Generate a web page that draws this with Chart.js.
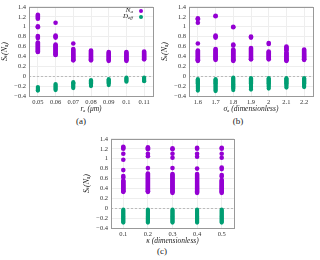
<!DOCTYPE html>
<html>
<head>
<meta charset="utf-8">
<script src="https://cdn.jsdelivr.net/npm/chart.js@4"></script>
<style>
  body { margin: 0; background: #fff; }
  #wrap { position: relative; width: 320px; height: 260px; font-family: "Liberation Serif", "DejaVu Serif", serif; color: #222; }
  canvas { position: absolute; }
  .cap { position: absolute; font-size: 9px; width: 40px; text-align: center; margin-left: -20px; }
  .leg { position: absolute; font-size: 7px; font-style: italic; text-align: right; width: 30px; line-height: 7px; }
  .leg sub { font-size: 5px; line-height: 0; vertical-align: -1px; }
  .dot { position: absolute; width: 4px; height: 4px; border-radius: 2px; }
</style>
</head>
<body>
<div id="wrap">
  <canvas id="chartA" width="160" height="114" style="left:0;top:0"></canvas>
  <canvas id="chartB" width="160" height="114" style="left:160px;top:0"></canvas>
  <canvas id="chartC" width="160" height="114" style="left:82px;top:132px"></canvas>
  <div class="cap" style="left:81px;top:116px">(a)</div>
  <div class="cap" style="left:238px;top:116px">(b)</div>
  <div class="cap" style="left:162px;top:246px">(c)</div>
  <div class="leg" style="left:103px;top:7px">N<sub>a</sub></div>
  <div class="leg" style="left:103px;top:13px">D<sub>eff</sub></div>
  <div class="dot" style="left:139px;top:9px;background:#9400d3"></div>
  <div class="dot" style="left:139px;top:15px;background:#009e73"></div>
</div>
<script>
// (a) radius r_a
var rLabels = ['0.05', '0.06', '0.07', '0.08', '0.09', '0.1', '0.11'];
var rNa = [
    [1.24, 1.22, 1.2, 1.18, 1.16, 1.01, 0.99, 0.81, 0.79, 0.77, 0.68, 0.66, 0.64, 0.62, 0.6, 0.58, 0.56, 0.54, 0.52, 0.5, 0.49],
    [1.08, 0.82, 0.8, 0.78, 0.64, 0.62, 0.6, 0.58, 0.56, 0.54, 0.52, 0.5, 0.48, 0.46, 0.44, 0.43],
    [0.66, 0.55, 0.53, 0.51, 0.49, 0.47, 0.45, 0.43, 0.41, 0.39, 0.37, 0.35, 0.33, 0.32],
    [0.52, 0.5, 0.48, 0.46, 0.44, 0.42, 0.4, 0.38, 0.36, 0.34, 0.32],
    [0.49, 0.47, 0.45, 0.43, 0.41, 0.39, 0.37, 0.35, 0.33, 0.31],
    [0.49, 0.47, 0.45, 0.43, 0.41, 0.39, 0.37, 0.35, 0.33, 0.31],
    [0.5, 0.48, 0.46, 0.44, 0.42, 0.4, 0.38, 0.36, 0.34]
];
var rDeff = [
    [-0.22, -0.24, -0.26, -0.28, -0.29],
    [-0.16, -0.18, -0.2, -0.22, -0.24, -0.26, -0.28],
    [-0.12, -0.14, -0.16, -0.18, -0.2, -0.22, -0.24],
    [-0.08, -0.1, -0.12, -0.14, -0.16, -0.18, -0.2],
    [-0.06, -0.08, -0.1, -0.12, -0.14, -0.18],
    [-0.03, -0.05, -0.07, -0.09, -0.11],
    [-0.03, -0.05, -0.07, -0.09, -0.1]
];

// (b) sigma_a
var sigmaLabels = ['1.6', '1.7', '1.8', '1.9', '2', '2.1', '2.2'];
var sigmaNa = [
    [1.17, 1.15, 1.08, 0.66, 0.52, 0.5, 0.48, 0.46, 0.44, 0.42, 0.4, 0.38, 0.36, 0.34, 0.32, 0.31],
    [1.22, 1.21, 0.82, 0.8, 0.78, 0.55, 0.53, 0.51, 0.49, 0.47, 0.45, 0.43, 0.41, 0.39, 0.37, 0.35, 0.33],
    [1.0, 0.99, 0.64, 0.62, 0.54, 0.52, 0.5, 0.48, 0.46, 0.44, 0.42, 0.4, 0.38, 0.36, 0.34, 0.32, 0.31],
    [0.8, 0.78, 0.57, 0.55, 0.53, 0.51, 0.49, 0.47, 0.45, 0.43, 0.41, 0.39, 0.37, 0.35, 0.34],
    [0.67, 0.65, 0.5, 0.48, 0.46, 0.44, 0.42, 0.4, 0.38, 0.36, 0.34],
    [0.6, 0.58, 0.56, 0.54, 0.52, 0.48, 0.46, 0.44, 0.42, 0.4, 0.38, 0.36, 0.34, 0.32, 0.31],
    [0.54, 0.52, 0.5, 0.48, 0.46, 0.44, 0.42, 0.4, 0.38, 0.36, 0.34, 0.33]
];
var sigmaDeff = [
    [-0.06, -0.08, -0.1, -0.12, -0.14, -0.16, -0.18, -0.2, -0.22, -0.24, -0.26, -0.29],
    [-0.06, -0.08, -0.1, -0.12, -0.14, -0.16, -0.18, -0.2, -0.22, -0.24, -0.26, -0.28, -0.3],
    [-0.03, -0.05, -0.07, -0.09, -0.11, -0.13, -0.15, -0.17, -0.19, -0.21, -0.23, -0.25, -0.28],
    [-0.04, -0.06, -0.08, -0.1, -0.12, -0.14, -0.16, -0.18, -0.2, -0.22, -0.24, -0.27],
    [-0.04, -0.06, -0.08, -0.1, -0.12, -0.14, -0.16, -0.18, -0.2, -0.22, -0.25],
    [-0.04, -0.06, -0.08, -0.1, -0.12, -0.14, -0.16, -0.18, -0.2, -0.23],
    [-0.04, -0.06, -0.08, -0.1, -0.12, -0.14, -0.16, -0.18, -0.2, -0.22]
];

// (c) kappa
var kappaLabels = ['0.1', '0.2', '0.3', '0.4', '0.5'];
var kappaNa = [
    [1.24, 1.22, 1.2, 1.1, 0.98, 0.77, 0.65, 0.62, 0.56, 0.54, 0.52, 0.5, 0.48, 0.46, 0.44, 0.42, 0.4, 0.38, 0.36, 0.34, 0.33],
    [1.23, 1.21, 1.19, 1.1, 1.05, 0.81, 0.7, 0.68, 0.66, 0.64, 0.62, 0.6, 0.58, 0.56, 0.54, 0.52, 0.5, 0.48, 0.46, 0.44, 0.42, 0.4, 0.38, 0.36, 0.34, 0.33],
    [1.21, 1.19, 1.1, 1.02, 0.81, 0.69, 0.67, 0.65, 0.63, 0.61, 0.59, 0.57, 0.55, 0.53, 0.51, 0.49, 0.47, 0.45, 0.43, 0.41, 0.39, 0.37, 0.35, 0.33, 0.31],
    [1.22, 1.2, 1.1, 1.04, 0.8, 0.69, 0.67, 0.65, 0.63, 0.61, 0.59, 0.57, 0.55, 0.53, 0.51, 0.49, 0.47, 0.45, 0.43, 0.41, 0.39, 0.37, 0.35, 0.33, 0.31],
    [1.22, 1.2, 1.1, 1.02, 0.82, 0.79, 0.67, 0.64, 0.57, 0.55, 0.53, 0.51, 0.49, 0.47, 0.45, 0.43, 0.41, 0.39, 0.37, 0.35, 0.33, 0.31]
];
var kappaDeff = [
    [-0.03, -0.05, -0.07, -0.09, -0.11, -0.13, -0.15, -0.17, -0.19, -0.21, -0.23, -0.25, -0.27, -0.29],
    [-0.03, -0.05, -0.07, -0.09, -0.11, -0.13, -0.15, -0.17, -0.19, -0.21, -0.23, -0.25, -0.27, -0.29],
    [-0.03, -0.05, -0.07, -0.09, -0.11, -0.13, -0.15, -0.17, -0.19, -0.21, -0.23, -0.25, -0.27, -0.29],
    [-0.03, -0.05, -0.07, -0.09, -0.11, -0.13, -0.15, -0.17, -0.19, -0.21, -0.23, -0.25, -0.27, -0.29],
    [-0.03, -0.05, -0.07, -0.09, -0.11, -0.13, -0.15, -0.17, -0.19, -0.21, -0.23, -0.25, -0.27, -0.29]
];

var yTicks = [-0.4, -0.2, 0, 0.2, 0.4, 0.6, 0.8, 1, 1.2, 1.4];

var purple = '#9400d3';
var green = '#009e73';
var serif = '"Liberation Serif", "DejaVu Serif", serif';

function toPoints(cols) {
    var pts = [];
    cols.forEach(function(col, i) {
        col.forEach(function(v) {
            pts.push({ x: i, y: v });
        });
    });
    return pts;
}

// box around the plot and the dotted zero line
var framePlugin = {
    id: 'frame',
    beforeDatasetsDraw: function(chart) {
        var ctx = chart.ctx, a = chart.chartArea;
        var y0 = chart.scales.y.getPixelForValue(0);
        ctx.save();
        ctx.strokeStyle = '#bbb';
        ctx.lineWidth = 1;
        ctx.setLineDash([2, 2]);
        ctx.beginPath();
        ctx.moveTo(a.left, Math.round(y0) + 0.5);
        ctx.lineTo(a.right, Math.round(y0) + 0.5);
        ctx.stroke();
        ctx.restore();
    },
    afterDraw: function(chart) {
        var ctx = chart.ctx, a = chart.chartArea;
        ctx.save();
        ctx.strokeStyle = '#999';
        ctx.lineWidth = 1;
        ctx.strokeRect(Math.round(a.left) + 0.5, Math.round(a.top) + 0.5, Math.round(a.right - a.left), Math.round(a.bottom - a.top));
        ctx.restore();
    }
};

function makeChart(id, labels, na, deff, xTitle, padRight) {
    return new Chart(document.getElementById(id), {
        type: 'scatter',
        data: {
            datasets: [{
                    label: 'Na',
                    data: toPoints(na),
                    backgroundColor: purple,
                    borderWidth: 0,
                    pointRadius: 2.3
                },
                {
                    label: 'Deff',
                    data: toPoints(deff),
                    backgroundColor: green,
                    borderWidth: 0,
                    pointRadius: 2.1
                }
            ]
        },
        options: {
            responsive: false,
            animation: false,
            layout: { padding: { top: 5, right: padRight, left: 0, bottom: 0 } },
            plugins: { legend: { display: false }, tooltip: { enabled: false } },
            scales: {
                x: {
                    type: 'linear',
                    min: -0.5,
                    max: labels.length - 0.5,
                    afterBuildTicks: function(s) {
                        s.ticks = labels.map(function(l, i) { return { value: i }; });
                    },
                    afterFit: function(s) { s.height = 18; },
                    ticks: {
                        callback: function(v) { return labels[v]; },
                        font: { family: serif, size: 6.5 },
                        color: '#333',
                        padding: 2,
                        maxRotation: 0,
                        autoSkip: false
                    },
                    grid: { color: '#eee', drawTicks: false },
                    border: { display: false },
                    title: {
                        display: true,
                        text: xTitle,
                        font: { family: serif, size: 7.5, style: 'italic' },
                        color: '#222',
                        padding: 0
                    }
                },
                y: {
                    min: -0.4,
                    max: 1.4,
                    afterBuildTicks: function(s) {
                        s.ticks = yTicks.map(function(v) { return { value: v }; });
                    },
                    afterFit: function(s) { s.width = 29; },
                    ticks: {
                        callback: function(v) { return String(Math.round(v * 10) / 10).replace('-', '\u2212'); },
                        font: { family: serif, size: 6.5 },
                        color: '#333',
                        padding: 3,
                        autoSkip: false
                    },
                    grid: { color: '#eee', drawTicks: false },
                    border: { display: false },
                    title: {
                        display: true,
                        text: 'S\u209c(N\u2090)',
                        font: { family: serif, size: 8, style: 'italic' },
                        color: '#222',
                        padding: 0
                    }
                }
            }
        },
        plugins: [framePlugin]
    });
}

makeChart('chartA', rLabels, rNa, rDeff, 'r\u2090 (\u03bcm)', 7);
makeChart('chartB', sigmaLabels, sigmaNa, sigmaDeff, '\u03c3\u2090 (dimensionless)', 7);
makeChart('chartC', kappaLabels, kappaNa, kappaDeff, '\u03ba (dimensionless)', 8);
</script>
</body>
</html>
